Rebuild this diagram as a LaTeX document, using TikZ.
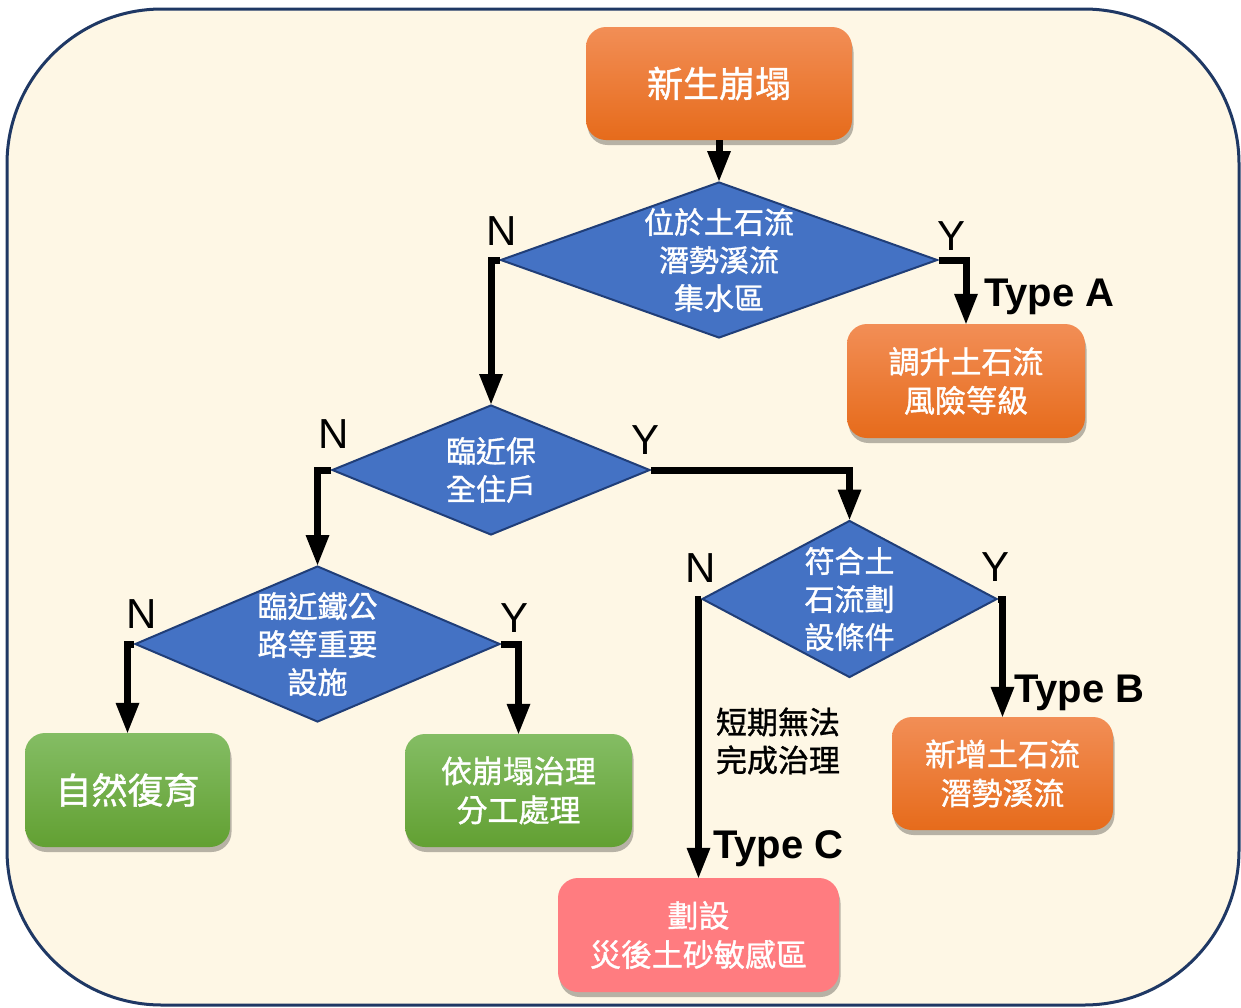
\documentclass[tikz,border=0pt]{standalone}
\usepackage{fontspec}
\setmainfont{Liberation Sans}
\newfontfamily\cjkfam[BoldFont={Noto Sans CJK TC}, BoldFeatures={FakeBold=1.2}]{Noto Sans CJK TC}
\newcommand\cjk{\cjkfam\bfseries}
\usetikzlibrary{shapes.geometric,arrows.meta,shadows}
\definecolor{bgfill}{HTML}{FEF7E5}
\definecolor{bgline}{HTML}{1F3864}
\definecolor{orT}{HTML}{F28E56}
\definecolor{orB}{HTML}{E66B1B}
\definecolor{grT}{HTML}{84BD64}
\definecolor{grB}{HTML}{62A032}
\definecolor{pinkF}{HTML}{FF7C80}
\definecolor{diaF}{HTML}{4472C4}
\definecolor{diaB}{HTML}{203E78}
\begin{document}
\begin{tikzpicture}[x=1pt,y=-1pt,
  box/.style={rounded corners=20pt, draw=none, text=white, align=center, inner sep=0pt,
    drop shadow={shadow xshift=1.5pt, shadow yshift=-5pt, fill=black, opacity=0.28}},
  orangebox/.style={box, top color=orT, bottom color=orB},
  greenbox/.style={box, top color=grT, bottom color=grB},
  pinkbox/.style={box, fill=pinkF},
  bigtxt/.style={font=\cjk\fontsize{36}{40}\selectfont},
  midtxt/.style={font=\cjk\fontsize{31}{39}\selectfont},
  dia/.style={diamond, draw=diaB, line width=2pt, fill=diaF, inner sep=0pt},
  diatext/.style={text=white, align=center, inner sep=0pt, font=\cjk\fontsize{30}{38}\selectfont},
  conn/.style={line width=7pt, -{Triangle[length=30pt,width=24pt,line width=0pt]}},
  yn/.style={inner sep=0pt, font=\fontsize{42}{42}\selectfont},
  typ/.style={anchor=base west, inner sep=0pt, font=\bfseries\fontsize{40}{40}\selectfont},
]
\useasboundingbox (0,0) rectangle (1241,1007);
\draw[fill=bgfill, draw=bgline, line width=3pt, rounded corners=155pt] (7,9) rectangle (1239,1005);

% boxes
\node[orangebox, bigtxt, minimum width=266pt, minimum height=113pt] (start) at (719,83.5) {新生崩塌};
\node[orangebox, midtxt, minimum width=238pt, minimum height=114pt] (bA) at (966,381) {調升土石流\\風險等級};
\node[greenbox, bigtxt, minimum width=205pt, minimum height=114pt] (bG1) at (127.5,790) {自然復育};
\node[greenbox, midtxt, minimum width=227pt, minimum height=113pt] (bG2) at (518.5,790.5) {依崩塌治理\\分工處理};
\node[orangebox, midtxt, minimum width=221pt, minimum height=113pt] (bB) at (1002.5,773.5) {新增土石流\\潛勢溪流};
\node[pinkbox, midtxt, minimum width=281pt, minimum height=114pt] (bC) at (698.5,935) {劃設\\災後土砂敏感區};

% diamonds
\node[dia, minimum width=437pt, minimum height=156pt] (d1) at (719,260) {};
\node[diatext] (d1t) at (d1.center) {位於土石流\\潛勢溪流\\集水區};
\node[dia, minimum width=318pt, minimum height=130pt] (d2) at (491,470) {};
\node[diatext] (d2t) at (d2.center) {臨近保\\全住戶};
\node[dia, minimum width=365pt, minimum height=156pt] (d3) at (317.5,644) {};
\node[diatext] (d3t) at (d3.center) {臨近鐵公\\路等重要\\設施};
\node[dia, minimum width=295pt, minimum height=157pt] (d4) at (849.5,599) {};
\node[diatext] (d4t) at (d4.center) {符合土\\石流劃\\設條件};

% connectors
\draw[conn] (start.south) -- (d1.north);
\draw[conn] (d1.west) -| (d2.north);
\draw[conn] (d1.east) -| (bA.north);
\draw[conn] (d2.west) -| (d3.north);
\draw[conn] (d2.east) -| (d4.north);
\draw[conn] (d3.west) -| (bG1.north);
\draw[conn] (d3.east) -| (bG2.north);
\draw[conn] (d4.west) -| (bC.north);
\draw[conn] (d4.east) -| (bB.north);

% labels
\node[yn] (n1) at (502,231) {N};
\node[yn] (y1) at (951,236) {Y};
\node[yn] (n2) at (334,434) {N};
\node[yn] (y2) at (645,440) {Y};
\node[yn] (n3) at (142,614) {N};
\node[yn] (y3) at (514,618) {Y};
\node[yn] (n4) at (701,568) {N};
\node[yn] (y4) at (995,567) {Y};
\node[typ] (tA) at (984,306) {Type A};
\node[typ] (tB) at (1014,702) {Type B};
\node[typ] (tC) at (713,858) {Type C};
\node[align=center, inner sep=0pt, font=\cjk\fontsize{31}{38}\selectfont] (note) at (778,741) {短期無法\\完成治理};
\end{tikzpicture}
\end{document}
